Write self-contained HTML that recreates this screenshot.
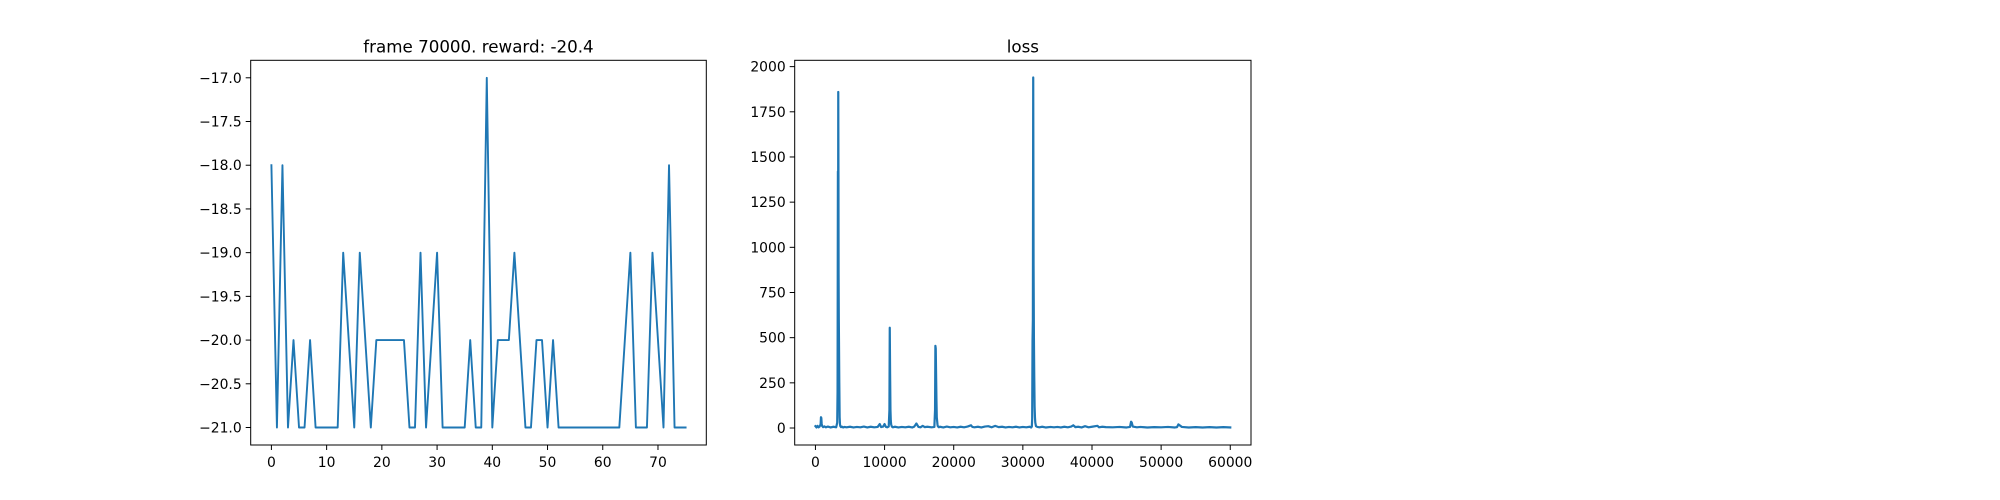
<!DOCTYPE html>
<html><head><meta charset="utf-8"><style>
html,body{margin:0;padding:0;background:#fff;}
svg{display:block;font-family:"DejaVu Sans","Liberation Sans",sans-serif;}
</style></head><body>
<svg id="fig" width="2000" height="500" viewBox="0 0 2000 500" xmlns="http://www.w3.org/2000/svg"></svg>
<script>
// Reward chart data
const rewardValues = [-18,-21,-18,-21,-20,-21,-21,-20,-21,-21,-21,-21,-21,-19,-20,-21,-19,-20,-21,-20,-20,-20,-20,-20,-20,-21,-21,-19,-21,-20,-19,-21,-21,-21,-21,-21,-20,-21,-21,-17,-21,-20,-20,-20,-19,-20,-21,-21,-20,-20,-21,-20,-21,-21,-21,-21,-21,-21,-21,-21,-21,-21,-21,-21,-20,-19,-21,-21,-21,-19,-20,-21,-18,-21,-21,-21];
const rewardXTicks = [0,10,20,30,40,50,60,70];
const rewardYTicks = [-17,-17.5,-18,-18.5,-19,-19.5,-20,-20.5,-21];
// Loss chart data
const lossFrames = [0,150,300,450,600,750,800,850,900,950,1100,1300,1500,1800,2200,2600,3000,3150,3200,3250,3280,3300,3330,3350,3380,3400,3450,3500,3550,3600,3700,3800,4000,4200,4500,5000,5500,6000,6500,7000,7500,8000,8500,9000,9300,9500,9800,10000,10200,10400,10600,10700,10750,10800,10850,10900,10950,11050,11200,11500,12000,12500,13000,13500,14000,14300,14600,14900,15200,15500,15800,16200,16800,17200,17300,17350,17400,17450,17500,17550,17650,17700,17850,18000,18500,19000,19500,20000,20500,21000,21500,22000,22500,22700,23000,23500,24000,24500,25000,25500,26000,26500,27000,27500,28000,28500,29000,29500,30000,30500,31000,31200,31300,31350,31400,31450,31500,31550,31600,31650,31700,31750,31800,31900,32100,32400,32800,33300,34000,34500,35000,35500,36000,36500,37000,37300,37600,38000,38500,39000,39500,40000,40800,41000,41500,42000,43000,44000,45000,45500,45650,45750,45900,46500,47000,48000,49000,50000,51000,52000,52300,52500,53000,54000,55000,56000,57000,58000,59000,60000];
const lossValues = [10,3,12,4,8,20,60,55,25,12,5,9,4,8,3,7,4,30,200,1420,1000,1860,1400,850,600,500,250,60,20,10,5,8,3,6,4,7,3,6,4,8,3,7,4,6,22,5,8,22,6,4,8,100,555,300,100,40,20,8,4,7,3,6,4,7,3,8,25,6,4,12,5,7,4,6,100,455,440,300,160,60,20,10,4,7,3,8,4,6,3,7,4,8,15,6,4,7,3,8,10,4,12,5,7,3,6,4,7,3,6,4,7,3,8,50,480,600,1940,900,500,280,120,60,30,10,6,4,7,3,6,4,6,3,7,4,8,15,5,7,3,10,4,7,12,4,7,5,4,6,3,6,35,30,8,4,6,3,5,4,6,3,5,20,6,3,5,3,5,3,5,3,5];
const lossXTicks = [0,10000,20000,30000,40000,50000,60000];
const lossYTicks = [0,250,500,750,1000,1250,1500,1750,2000];

const svg = document.getElementById('fig');
const NS = 'http://www.w3.org/2000/svg';
function mk(tag, attrs, parent){
  const e = document.createElementNS(NS, tag);
  for (const k in attrs) e.setAttribute(k, attrs[k]);
  (parent||svg).appendChild(e);
  return e;
}
function fmtNum(v, dec){
  let s = dec ? Math.abs(v).toFixed(dec) : String(Math.abs(v));
  return (v < 0 ? '\u2212' : '') + s;
}
function drawAxes(o){
  const g = mk('g', {});
  
  
  const sx = v => o.L + (v - o.x0) / (o.x1 - o.x0) * (o.R - o.L);
  const sy = v => o.B - (v - o.y0) / (o.y1 - o.y0) * (o.B - o.T);
  let d = '';
  o.xs.forEach((x, i) => { d += (i ? 'L' : 'M') + sx(x).toFixed(2) + ' ' + sy(o.ys[i]).toFixed(2); });
  const line = mk('path', {d: d, fill: 'none', stroke: '#1f77b4', 'stroke-width': o.lw, 'stroke-linejoin': 'round', 'stroke-linecap': 'square'}, g);
  
  
  const fr = mk('rect', {x: o.L, y: o.T, width: o.R - o.L, height: o.B - o.T, fill: 'none', stroke: '#000', 'stroke-width': 1}, g);
  
  
  o.xt.forEach(v => {
    const x = sx(v);
    mk('line', {x1: x, x2: x, y1: o.B, y2: o.B + 5, stroke: '#000', 'stroke-width': 1}, g);
    const t = mk('text', {x: x, y: o.B + 22, 'text-anchor': 'middle', 'font-size': 13.9, fill: '#000'}, g);
    
    
    t.textContent = fmtNum(v, 0);
  });
  o.yt.forEach(v => {
    const y = sy(v);
    mk('line', {x1: o.L - 5, x2: o.L, y1: y, y2: y, stroke: '#000', 'stroke-width': 1}, g);
    const t = mk('text', {x: o.L - 9, y: y + 5, 'text-anchor': 'end', 'font-size': 13.9, fill: '#000'}, g);
    
    
    t.textContent = fmtNum(v, o.ydec);
  });
  const tt = mk('text', {x: (o.L + o.R) / 2, y: o.T - 8, 'text-anchor': 'middle', 'font-size': 16.7, fill: '#000'}, g);
  
  
  tt.textContent = o.title;
}
drawAxes({name: 'reward-chart', L: 250.7, R: 706.3, T: 60.3, B: 445,
  x0: -3.75, x1: 78.75, y0: -21.2, y1: -16.8, lw: 1.9,
  xs: rewardValues.map((v, i) => i), ys: rewardValues,
  xt: rewardXTicks, yt: rewardYTicks, ydec: 1, title: 'frame 70000. reward: -20.4'});
drawAxes({name: 'loss-chart', L: 794.7, R: 1251, T: 60.3, B: 445,
  x0: -3000, x1: 63000, y0: -94, y1: 2035, lw: 2.2,
  xs: lossFrames, ys: lossValues,
  xt: lossXTicks, yt: lossYTicks, ydec: 0, title: 'loss'});
</script>
</body></html>
